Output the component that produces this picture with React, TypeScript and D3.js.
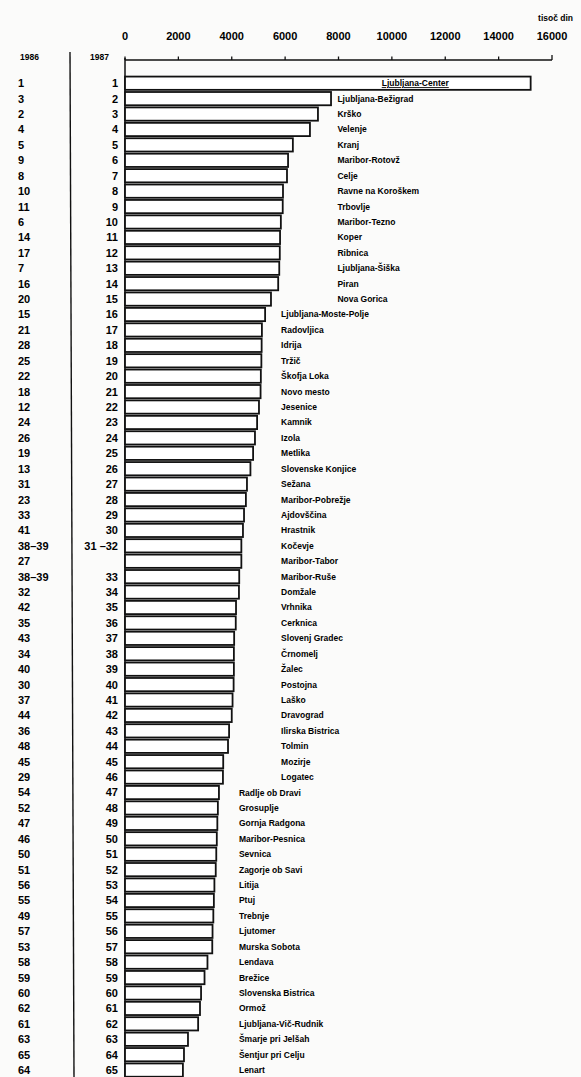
import React from 'react';
import * as d3 from 'd3';

// občine, razvrščene po vrednosti v letu 1987 (tisoč din)
const names = [
  'Ljubljana-Center', 'Ljubljana-Bežigrad', 'Krško', 'Velenje', 'Kranj',
  'Maribor-Rotovž', 'Celje', 'Ravne na Koroškem', 'Trbovlje', 'Maribor-Tezno',
  'Koper', 'Ribnica', 'Ljubljana-Šiška', 'Piran', 'Nova Gorica',
  'Ljubljana-Moste-Polje', 'Radovljica', 'Idrija', 'Tržič', 'Škofja Loka',
  'Novo mesto', 'Jesenice', 'Kamnik', 'Izola', 'Metlika',
  'Slovenske Konjice', 'Sežana', 'Maribor-Pobrežje', 'Ajdovščina', 'Hrastnik',
  'Kočevje', 'Maribor-Tabor', 'Maribor-Ruše', 'Domžale', 'Vrhnika',
  'Cerknica', 'Slovenj Gradec', 'Črnomelj', 'Žalec', 'Postojna',
  'Laško', 'Dravograd', 'Ilirska Bistrica', 'Tolmin', 'Mozirje',
  'Logatec', 'Radlje ob Dravi', 'Grosuplje', 'Gornja Radgona', 'Maribor-Pesnica',
  'Sevnica', 'Zagorje ob Savi', 'Litija', 'Ptuj', 'Trebnje',
  'Ljutomer', 'Murska Sobota', 'Lendava', 'Brežice', 'Slovenska Bistrica',
  'Ormož', 'Ljubljana-Vič-Rudnik', 'Šmarje pri Jelšah', 'Šentjur pri Celju', 'Lenart',
];

const values1987 = [
  15200, 7720, 7230, 6930, 6290,
  6110, 6070, 5920, 5910, 5840,
  5810, 5800, 5780, 5740, 5470,
  5250, 5130, 5120, 5110, 5090,
  5080, 5020, 4950, 4870, 4800,
  4700, 4570, 4530, 4460, 4420,
  4360, 4360, 4280, 4270, 4160,
  4150, 4090, 4080, 4080, 4070,
  4030, 4000, 3900, 3860, 3680,
  3670, 3520, 3480, 3460, 3440,
  3420, 3400, 3350, 3330, 3310,
  3280, 3270, 3090, 2980, 2850,
  2810, 2740, 2360, 2210, 2170,
];

const rank1986 = [
  '1', '3', '2', '4', '5', '9', '8', '10', '11', '6',
  '14', '17', '7', '16', '20', '15', '21', '28', '25', '22',
  '18', '12', '24', '26', '19', '13', '31', '23', '33', '41',
  '38–39', '27', '38–39', '32', '42', '35', '43', '34', '40', '30',
  '37', '44', '36', '48', '45', '29', '54', '52', '47', '46',
  '50', '51', '56', '55', '49', '57', '53', '58', '59', '60',
  '62', '61', '63', '65', '64',
];

const rank1987 = [
  '1', '2', '3', '4', '5', '6', '7', '8', '9', '10',
  '11', '12', '13', '14', '15', '16', '17', '18', '19', '20',
  '21', '22', '23', '24', '25', '26', '27', '28', '29', '30',
  '31 –32', '', '33', '34', '35', '36', '37', '38', '39', '40',
  '41', '42', '43', '44', '45', '46', '47', '48', '49', '50',
  '51', '52', '53', '54', '55', '56', '57', '58', '59', '60',
  '61', '62', '63', '64', '65',
];

const xTicks = [0, 2000, 4000, 6000, 8000, 10000, 12000, 14000, 16000];
const unitLabel = 'tisoč din';
const yearHeaders = ['1986', '1987'];

export default function App() {
  const width = 581;
  const height = 1077;

  const x = d3.scaleLinear().domain([0, 16000]).range([125, 552]);
  const y = d3.scaleBand<number>()
    .domain(d3.range(names.length))
    .range([75.5, 75.5 + names.length * 15.42])
    .paddingInner(0.14)
    .paddingOuter(0.07);

  // kje se začnejo imena (stolpci nalepk v skupinah)
  const labelX = (i: number) => {
    if (i === 0) return x(9620);
    if (i < 15) return x(7960);
    if (i < 46) return x(5850);
    return x(4270);
  };

  const font = '"Liberation Sans", Arial, sans-serif';
  const rowY = (i: number) => (y(i) as number) + y.bandwidth() / 2;

  return (
    <svg width={width} height={height} style={{ position: 'absolute', left: 0, top: 0, background: '#fbfbfa' }}
      fontFamily={font}>
      <rect width={width} height={height} fill="#fbfbfa" />

      {/* enota */}
      <text x={573} y={21} fontSize={8.5} fontWeight={700} textAnchor="end">{unitLabel}</text>

      {/* os x */}
      <line x1={x(0)} x2={x(16000)} y1={60} y2={60} stroke="#111" strokeWidth={1.4} />
      {xTicks.map(t => (
        <g key={t}>
          <line x1={x(t)} x2={x(t)} y1={t === 16000 ? 55 : 56.5} y2={60} stroke="#111" strokeWidth={1.3} />
          <text x={x(t)} y={40} fontSize={11} fontWeight={700} textAnchor="middle">{t}</text>
        </g>
      ))}
      <line x1={x(0)} x2={x(0)} y1={58} y2={height} stroke="#111" strokeWidth={1.5} />

      {/* glave stolpcev z rangi */}
      <text x={20} y={60} fontSize={8.5} fontWeight={700}>{yearHeaders[0]}</text>
      <text x={90} y={60} fontSize={8.5} fontWeight={700}>{yearHeaders[1]}</text>
      <line x1={70} x2={74} y1={52} y2={height} stroke="#111" strokeWidth={1.4} />

      {/* stolpci */}
      {values1987.map((v, i) => (
        <rect key={names[i]} x={x(0)} y={y(i)} width={x(v) - x(0)} height={y.bandwidth()}
          fill="#fff" stroke="#111" strokeWidth={1.8} />
      ))}

      {/* rangi */}
      {rank1986.map((r, i) => (
        <text key={'a' + i} x={18} y={rowY(i)} dy="0.36em" fontSize={11} fontWeight={700}>{r}</text>
      ))}
      {rank1987.map((r, i) => (
        <text key={'b' + i} x={118} y={rowY(i)} dy="0.36em" fontSize={11} fontWeight={700}
          textAnchor="end">{r}</text>
      ))}

      {/* imena */}
      {names.map((n, i) => (
        <text key={'n' + i} x={labelX(i)} y={rowY(i)} dy="0.35em" fontSize={8.5} fontWeight={700}
          textDecoration={i === 0 ? 'underline' : undefined}>{n}</text>
      ))}
    </svg>
  );
}
